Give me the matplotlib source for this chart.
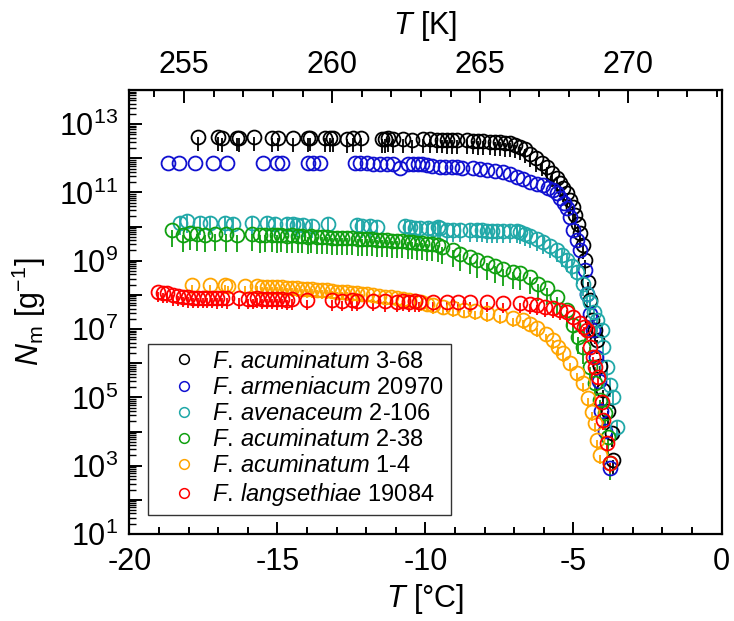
import numpy as np
import matplotlib
matplotlib.use("Agg")
import matplotlib.pyplot as plt
from matplotlib.ticker import LogLocator, FuncFormatter, NullFormatter, MultipleLocator
from matplotlib.lines import Line2D

plt.rcParams['font.family'] = 'Liberation Sans'
plt.rcParams['mathtext.fontset'] = 'custom'
plt.rcParams['mathtext.rm'] = 'Liberation Sans'
plt.rcParams['mathtext.it'] = 'Liberation Sans:italic'
plt.rcParams['mathtext.bf'] = 'Liberation Sans:bold'
plt.rcParams['axes.unicode_minus'] = False

# data: temperature in degC, log10 of N_m
t_black = [-17.67, -17.00, -16.86, -16.36, -16.29, -15.78, -15.17, -14.97, -14.47, -13.96,
           -13.90, -13.38, -13.22, -13.12, -12.65, -12.45, -12.17, -11.46, -11.36, -11.26,
           -11.09, -10.75, -10.45, -10.08, -9.83, -9.60, -9.43, -9.26, -9.10, -8.92,
           -8.59, -8.38, -8.22, -8.05, -7.81, -7.64, -7.47, -7.30, -7.14, -6.97,
           -6.79, -6.62, -6.46, -6.27, -6.07, -5.88, -5.71, -5.55, -5.44, -5.34,
           -5.22, -5.11, -5.02, -4.94, -4.86, -4.77, -4.68, -4.60, -4.50, -4.43,
           -4.37, -4.28, -4.20, -4.10, -4.00, -3.85, -3.70, -3.65]
n_black = [12.61, 12.61, 12.59, 12.60, 12.59, 12.61, 12.58, 12.60, 12.59, 12.58,
           12.60, 12.58, 12.59, 12.58, 12.57, 12.58, 12.59, 12.56, 12.57, 12.58,
           12.56, 12.57, 12.55, 12.56, 12.56, 12.55, 12.55, 12.54, 12.54, 12.53,
           12.53, 12.52, 12.51, 12.50, 12.49, 12.48, 12.47, 12.45, 12.44, 12.40,
           12.34, 12.26, 12.14, 12.00, 11.87, 11.74, 11.57, 11.43, 11.28, 11.13,
           10.97, 10.78, 10.56, 10.34, 10.09, 9.81, 9.45, 9.02, 8.38, 7.84,
           7.26, 6.96, 6.67, 5.93, 5.22, 4.61, 3.96, 3.16]

t_blue = [-18.69, -18.31, -17.77, -17.17, -16.70, -15.48, -15.01, -14.84, -13.96, -13.80,
          -13.55, -12.37, -12.20, -11.97, -11.77, -11.53, -11.29, -11.09, -10.86, -10.58,
          -10.41, -10.24, -10.11, -9.94, -9.77, -9.50, -9.33, -9.10, -8.92, -8.75,
          -8.38, -8.15, -7.92, -7.64, -7.37, -7.14, -6.90, -6.69, -6.46, -6.22,
          -6.02, -5.85, -5.68, -5.55, -5.45, -5.31, -5.21, -5.11, -5.01, -4.88,
          -4.77, -4.60, -4.53, -4.43, -4.33, -4.23, -4.15, -4.07, -3.95, -3.76]
n_blue = [11.86, 11.86, 11.86, 11.86, 11.86, 11.86, 11.85, 11.86, 11.85, 11.85,
          11.85, 11.85, 11.85, 11.85, 11.84, 11.84, 11.84, 11.84, 11.71, 11.84,
          11.83, 11.83, 11.82, 11.79, 11.77, 11.75, 11.75, 11.74, 11.74, 11.73,
          11.71, 11.70, 11.67, 11.63, 11.59, 11.54, 11.46, 11.39, 11.31, 11.26,
          11.22, 11.14, 11.07, 10.97, 10.84, 10.69, 10.55, 10.28, 9.90, 9.60,
          9.32, 8.73, 8.03, 7.45, 6.97, 6.18, 5.49, 4.61, 4.02, 2.93]

t_teal = [-18.28, -18.05, -17.61, -17.27, -16.77, -16.49, -15.86, -15.34, -15.08, -14.68,
          -14.47, -14.33, -14.13, -13.83, -13.28, -12.30, -12.14, -11.87, -11.64, -10.68,
          -10.51, -10.34, -10.18, -9.91, -9.57, -9.73, -9.50, -9.26, -9.06, -8.82,
          -8.49, -8.25, -8.08, -7.92, -7.74, -7.57, -7.37, -7.14, -6.90, -6.79,
          -6.63, -6.46, -6.22, -6.02, -5.78, -5.55, -5.38, -5.21, -5.04, -4.88,
          -4.67, -4.53, -4.43, -4.30, -4.20, -4.03, -4.00, -3.86, -3.76, -3.66, -3.53]
n_teal = [10.11, 10.17, 10.11, 10.11, 10.11, 10.07, 10.11, 10.11, 10.07, 10.09,
          10.07, 10.04, 10.04, 10.01, 10.07, 10.04, 10.01, 10.01, 9.99, 10.01,
          9.99, 9.97, 9.97, 9.97, 9.99, 9.93, 9.95, 9.91, 9.91, 9.90,
          9.91, 9.89, 9.89, 9.88, 9.88, 9.87, 9.87, 9.86, 9.86, 9.85,
          9.79, 9.72, 9.64, 9.55, 9.43, 9.32, 9.17, 9.02, 8.84, 8.67,
          8.33, 8.03, 7.79, 7.50, 7.26, 6.97, 6.48, 5.89, 5.36, 5.01, 4.13]

t_green = [-18.55, -18.18, -17.95, -17.72, -17.44, -17.10, -16.72, -16.36, -15.84, -15.59,
           -15.43, -15.18, -15.00, -14.86, -14.66, -14.50, -14.31, -14.17, -13.98, -13.85,
           -13.65, -13.49, -13.31, -13.16, -12.97, -12.82, -12.64, -12.48, -12.29, -12.15,
           -11.96, -11.81, -11.63, -11.47, -11.28, -11.13, -10.95, -10.80, -10.60, -10.46,
           -10.27, -10.12, -9.93, -9.78, -9.59, -9.43, -9.06, -8.82, -8.49, -8.25,
           -7.92, -7.64, -7.37, -7.04, -6.79, -6.46, -6.19, -5.88, -5.55, -5.21,
           -5.01, -4.84, -4.67, -4.43, -4.26, -4.10, -3.93, -3.83, -3.76]
n_green = [9.90, 9.76, 9.81, 9.79, 9.76, 9.79, 9.77, 9.76, 9.78, 9.74,
           9.76, 9.75, 9.74, 9.75, 9.73, 9.74, 9.72, 9.73, 9.71, 9.72,
           9.70, 9.70, 9.69, 9.68, 9.68, 9.67, 9.66, 9.66, 9.65, 9.64,
           9.64, 9.63, 9.62, 9.61, 9.60, 9.59, 9.58, 9.57, 9.56, 9.55,
           9.53, 9.52, 9.50, 9.48, 9.45, 9.40, 9.31, 9.21, 9.11, 9.01,
           8.93, 8.84, 8.77, 8.68, 8.64, 8.52, 8.33, 8.20, 7.95, 7.55,
           7.11, 6.76, 6.48, 5.89, 5.42, 4.92, 4.54, 3.84, 3.08]

t_orange = [-17.87, -17.27, -16.77, -16.67, -16.09, -15.69, -15.51, -15.34, -15.18, -15.01,
            -14.84, -14.68, -14.50, -14.33, -14.16, -14.00, -13.83, -13.65, -13.48, -13.32,
            -13.15, -12.98, -12.81, -12.65, -12.47, -12.30, -12.14, -11.97, -11.77, -11.56,
            -11.36, -11.16, -10.96, -10.75, -10.55, -10.35, -10.15, -9.95, -9.73, -9.40,
            -9.06, -8.69, -8.32, -7.92, -7.48, -7.04, -6.69, -6.47, -6.22, -5.94,
            -5.68, -5.51, -5.34, -5.11, -4.88, -4.67, -4.50, -4.37, -4.26, -4.20, -4.10]
n_orange = [8.29, 8.29, 8.28, 8.27, 8.26, 8.25, 8.24, 8.24, 8.23, 8.22,
            8.22, 8.21, 8.20, 8.19, 8.18, 8.17, 8.16, 8.15, 8.14, 8.13,
            8.12, 8.10, 8.09, 8.08, 8.07, 8.05, 8.04, 8.02, 7.99, 7.98,
            7.95, 7.93, 7.90, 7.87, 7.84, 7.81, 7.78, 7.74, 7.70, 7.66,
            7.61, 7.56, 7.52, 7.47, 7.40, 7.32, 7.26, 7.15, 7.03, 6.86,
            6.67, 6.47, 6.30, 6.01, 5.72, 5.42, 4.98, 4.57, 4.25, 3.75, 3.31]

t_red = [-19.03, -18.86, -18.73, -18.52, -18.35, -18.18, -18.01, -17.85, -17.68, -17.50,
         -17.37, -17.20, -17.04, -16.87, -16.70, -16.29, -15.99, -15.82, -15.69, -15.51,
         -15.34, -15.18, -15.01, -14.84, -14.68, -14.50, -14.00, -13.15, -12.81, -12.47,
         -12.30, -11.77, -11.36, -10.96, -10.75, -10.55, -10.35, -10.21, -9.73, -9.26,
         -8.89, -8.49, -7.92, -7.38, -6.79, -6.47, -6.22, -5.96, -5.68, -5.46,
         -5.21, -5.01, -4.77, -4.63, -4.53, -4.43, -4.35, -4.26, -4.16, -4.03,
         -4.00, -3.86, -3.76]
n_red = [8.08, 8.07, 8.05, 7.99, 7.97, 7.94, 7.93, 7.92, 7.92, 7.91,
         7.91, 7.91, 7.90, 7.91, 7.90, 7.90, 7.89, 7.89, 7.91, 7.88,
         7.89, 7.88, 7.87, 7.88, 7.86, 7.87, 7.85, 7.84, 7.83, 7.84,
         7.82, 7.82, 7.81, 7.80, 7.82, 7.80, 7.81, 7.79, 7.79, 7.80,
         7.78, 7.80, 7.79, 7.77, 7.76, 7.74, 7.70, 7.66, 7.61, 7.56,
         7.50, 7.35, 7.17, 7.06, 6.97, 6.48, 6.18, 5.89, 5.60, 4.87,
         4.34, 3.66, 3.08]

labels = [r"$\mathit{F.\,acuminatum}$ 3-68", r"$\mathit{F.\,armeniacum}$ 20970",
          r"$\mathit{F.\,avenaceum}$ 2-106", r"$\mathit{F.\,acuminatum}$ 2-38",
          r"$\mathit{F.\,acuminatum}$ 1-4", r"$\mathit{F.\,langsethiae}$ 19084"]
colors = ['black', '#1010d0', '#20a8a8', '#10a010', '#ffa500', '#ff0000']
# error bar length in decades (down, up)
err_dec = [(0.4, 0.0), (0.0, 0.0), (0.35, 0.2), (0.5, 0.0), (0.25, 0.0), (0.3, 0.0)]

series = [(t_black, n_black), (t_blue, n_blue), (t_teal, n_teal),
          (t_green, n_green), (t_orange, n_orange), (t_red, n_red)]

fig = plt.figure(figsize=(7.34, 6.21), dpi=100)
ax = fig.add_axes([129.3 / 734, 87 / 621, 592.2 / 734, 444 / 621])

for (t, logn), c, (dn, up) in zip(series, colors, err_dec):
    n = 10 ** np.array(logn)
    lo = n - n * 10 ** (-dn)
    hi = n * 10 ** up - n
    ax.errorbar(t, n, yerr=[lo, hi], fmt='o', mfc='none', mec=c, ecolor=c,
                ms=10, mew=1.3, elinewidth=1.3, capsize=0)

ax.set_yscale('log')
ax.set_xlim(-20, 0)
ax.set_ylim(1e1, 1e14)

ax.yaxis.set_major_locator(LogLocator(base=10, numticks=30))
ax.yaxis.set_major_formatter(FuncFormatter(
    lambda v, p: r'$10^{%d}$' % round(np.log10(v)) if round(np.log10(v)) % 2 == 1 else ''))
ax.yaxis.set_minor_locator(LogLocator(base=10, subs=np.arange(2, 10), numticks=200))
ax.yaxis.set_minor_formatter(NullFormatter())
ax.xaxis.set_major_locator(MultipleLocator(5))
ax.xaxis.set_minor_locator(MultipleLocator(1))

ax.tick_params(axis='both', which='both', direction='in', labelsize=22, right=False, top=False)
ax.tick_params(axis='x', which='major', length=9, width=1.4, pad=9)
ax.tick_params(axis='x', which='minor', length=5, width=1.4)
ax.tick_params(axis='y', which='major', length=9, width=1.4, pad=8)
ax.tick_params(axis='y', which='minor', length=5, width=1.0)
for s in ax.spines.values():
    s.set_linewidth(1.6)

ax.set_xlabel(r'$T$ [°C]', fontsize=22, labelpad=4)
ax.set_ylabel(r'$N_\mathrm{m}$ [g$^{-1}$]', fontsize=22, labelpad=8)

secax = ax.secondary_xaxis('top', functions=(lambda c: c + 273.15, lambda k: k - 273.15))
secax.set_xticks([255, 260, 265, 270])
secax.xaxis.set_minor_locator(MultipleLocator(1))
secax.tick_params(which='both', direction='in', labelsize=22)
secax.tick_params(which='major', length=9, width=1.4, pad=7)
secax.tick_params(which='minor', length=5, width=1.4)
secax.set_xlabel(r'$T$ [K]', fontsize=22, labelpad=12)

handles = [Line2D([], [], ls='none', marker='o', mfc='none', mec=c, ms=7, mew=1.1)
           for c in colors]
leg = ax.legend(handles, labels, loc='lower left', bbox_to_anchor=(0.032, 0.043),
                borderaxespad=0, fontsize=17, frameon=True, fancybox=False,
                edgecolor='black', labelspacing=0.17, handlelength=2.4,
                handletextpad=0.0, borderpad=0.3)
leg.get_frame().set_linewidth(1.0)

fig.savefig('out.png', dpi=100)
